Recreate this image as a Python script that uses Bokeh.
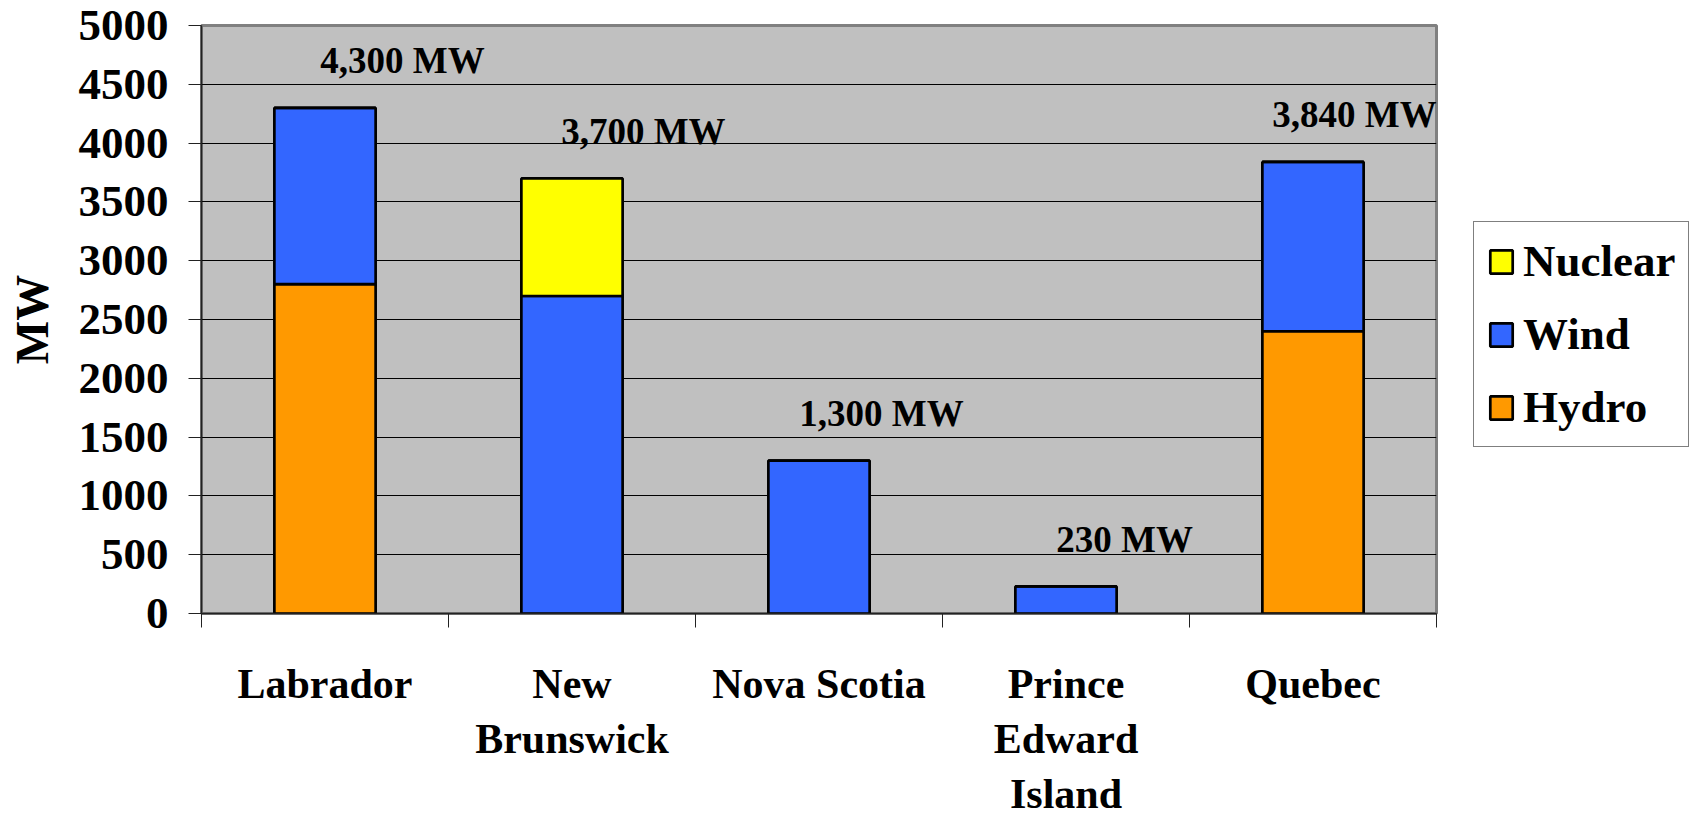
from bokeh.plotting import figure
from bokeh.models import (Range1d, FixedTicker, Legend, LegendItem, ColumnDataSource)
from bokeh.core.properties import value
from bokeh.embed import file_html
from bokeh.resources import INLINE

# Installed capacity by region and source (MW)
regions = ["Labrador", "New\nBrunswick", "Nova Scotia", "Prince\nEdward\nIsland", "Quebec"]
hydro = [2800, 0, 0, 0, 2400]
wind = [1500, 2700, 1300, 230, 1440]
nuclear = [0, 1000, 0, 0, 0]
y_ticks = [0, 500, 1000, 1500, 2000, 2500, 3000, 3500, 4000, 4500, 5000]

FONT = "Liberation Serif"
colors = {"Hydro": "#FF9900", "Wind": "#3366FF", "Nuclear": "#FFFF00"}

# horizontal nudges of the total labels, in category widths
label_dx = [0.314, 0.289, 0.253, 0.237, 0.168]
label_dy = 400

centers = [i + 0.5 for i in range(len(regions))]
bounds = [float(i) for i in range(len(regions) + 1)]
totals = [h + w + n for h, w, n in zip(hydro, wind, nuclear)]

src = ColumnDataSource(dict(x=centers, Hydro=hydro, Wind=wind, Nuclear=nuclear))

p = figure(
    frame_width=1235, frame_height=588,
    min_border_left=201, min_border_top=25, min_border_right=255, min_border_bottom=210,
    x_range=Range1d(0, len(regions)), y_range=Range1d(0, 5000),
    output_backend="svg", toolbar_location=None, tools="",
)
p.background_fill_color = "#C0C0C0"
p.border_fill_color = "white"
p.outline_line_color = "#808080"
p.outline_line_width = 3

renderers = p.vbar_stack(["Hydro", "Wind", "Nuclear"], x="x", width=0.41, source=src,
                         fill_color=[colors["Hydro"], colors["Wind"], colors["Nuclear"]],
                         line_color="black", line_width=2.7)

# totals above each bar
lab = ColumnDataSource(dict(
    x=[c + d for c, d in zip(centers, label_dx)],
    y=[t + label_dy for t in totals],
    text=[f"{t:,} MW" for t in totals],
))
p.text(x="x", y="y", text="text", source=lab, text_font=value(FONT),
       text_font_style="bold", text_font_size="37px", text_align="center",
       text_baseline="middle", text_color="black")

# y axis
p.yaxis.ticker = FixedTicker(ticks=y_ticks)
p.yaxis.axis_label = "MW"
p.yaxis.axis_label_text_font = FONT
p.yaxis.axis_label_text_font_style = "bold"
p.yaxis.axis_label_text_font_size = "46px"
p.yaxis.axis_label_text_color = "black"
p.yaxis.axis_label_standoff = 18
p.yaxis.major_label_text_font = FONT
p.yaxis.major_label_text_font_style = "bold"
p.yaxis.major_label_text_font_size = "45px"
p.yaxis.major_label_text_color = "black"
p.yaxis.major_label_standoff = 20
p.yaxis.major_tick_out = 13
p.yaxis.major_tick_in = 0
p.yaxis.minor_tick_line_color = None
p.yaxis.axis_line_color = "#222222"
p.yaxis.axis_line_width = 1.5
p.yaxis.major_tick_line_color = "#222222"

# x axis: labels at centres, ticks at category boundaries
p.xaxis.ticker = FixedTicker(ticks=centers, minor_ticks=bounds)
p.xaxis.major_label_overrides = {c: r for c, r in zip(centers, regions)}
p.xaxis.major_label_text_font = FONT
p.xaxis.major_label_text_font_style = "bold"
p.xaxis.major_label_text_font_size = "42px"
p.xaxis.major_label_text_color = "black"
p.xaxis.major_label_standoff = 33
p.xaxis.major_tick_out = 0
p.xaxis.major_tick_in = 0
p.xaxis.minor_tick_out = 14
p.xaxis.minor_tick_in = 0
p.xaxis.minor_tick_line_color = "#222222"
p.xaxis.axis_line_color = "#222222"
p.xaxis.axis_line_width = 1.5

p.xgrid.grid_line_color = None
p.ygrid.grid_line_color = "black"
p.ygrid.grid_line_width = 1

legend = Legend(
    items=[LegendItem(label="Nuclear", renderers=[renderers[2]]),
           LegendItem(label="Wind", renderers=[renderers[1]]),
           LegendItem(label="Hydro", renderers=[renderers[0]])],
    location=(37, 166),
    label_text_font=FONT, label_text_font_style="bold", label_text_font_size="45px",
    label_text_color="black",
    glyph_width=28, glyph_height=29, label_standoff=8,
    label_height=50, spacing=21, padding=13, margin=0,
    border_line_color="black", border_line_width=1.2,
    background_fill_color="white", background_fill_alpha=1.0,
)
p.add_layout(legend, "right")

open("out.html", "w").write(file_html(p, INLINE))
